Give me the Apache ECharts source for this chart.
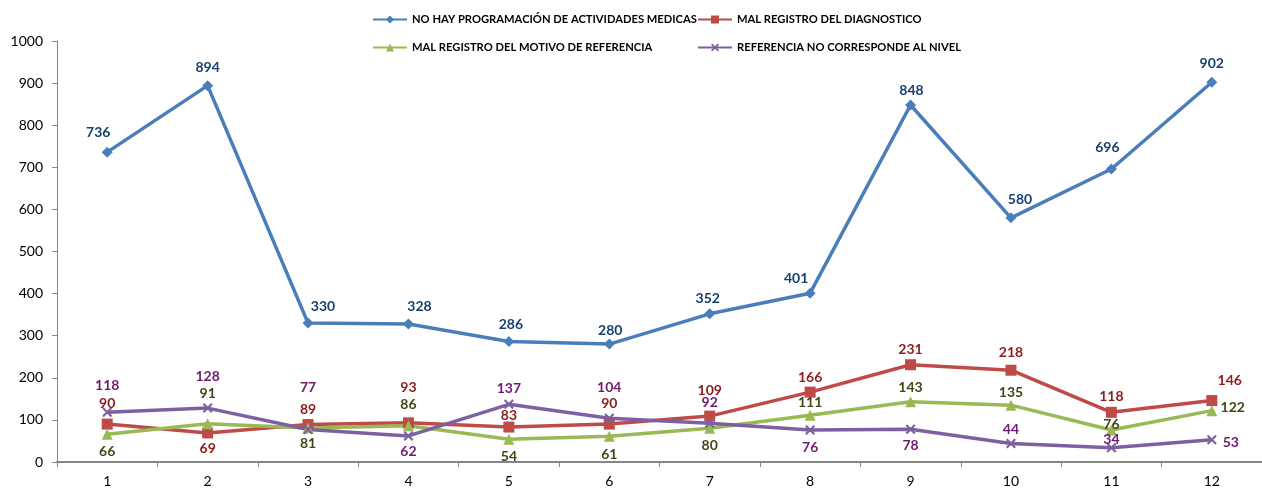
<!DOCTYPE html>
<html>
<head>
<meta charset="utf-8">
<script src="https://cdn.jsdelivr.net/npm/echarts@6/dist/echarts.min.js"></script>
<style>
html,body{margin:0;padding:0;background:#fff;}
#chart{width:1262px;height:493px;}
</style>
</head>
<body>
<div id="chart"></div>
<script>
const categories = ['1','2','3','4','5','6','7','8','9','10','11','12'];
const yTicks = [0,100,200,300,400,500,600,700,800,900,1000];

const seriesNames = [
  'NO HAY PROGRAMACIÓN DE ACTIVIDADES MEDICAS',
  'MAL REGISTRO DEL DIAGNOSTICO',
  'MAL REGISTRO DEL MOTIVO DE REFERENCIA',
  'REFERENCIA NO CORRESPONDE AL NIVEL'
];
const noHayProgramacion = [736, 894, 330, 328, 286, 280, 352, 401, 848, 580, 696, 902];
const malRegistroDiagnostico = [90, 69, 89, 93, 83, 90, 109, 166, 231, 218, 118, 146];
const malRegistroMotivo = [66, 91, 81, 86, 54, 61, 80, 111, 143, 135, 76, 122];
const referenciaNoCorresponde = [118, 128, 77, 62, 137, 104, 92, 76, 78, 44, 34, 53];

// label placement (pixel offsets of each value label from its point)
const offBlue = [[-9,-20],[0,-18],[15,-17],[11,-17],[2,-17],[1,-14],[-2,-15],[-14,-15],[1,-15],[9,-18],[-4,-21],[0,-19]];
const offRed = [[0,-21],[0,16],[0,-15],[0,-35],[0,-12],[0,-21],[0,-26],[0,-15],[0,-15],[0,-18],[0,-16],[18,-20]];
const offGreen = [[0,17],[0,-30],[0,16],[0,-21],[0,17],[0,18],[0,17],[0,-13],[0,-14],[0,-13],[0,-6],[21,-3]];
const offPurple = [[0,-27],[0,-32],[0,-42],[0,16],[0,-16],[0,-31],[0,-21],[0,17],[0,16],[0,-14],[0,-8],[19,3]];

const xSymbol = 'path://M0,1.5L1.5,0L5,3.5L8.5,0L10,1.5L6.5,5L10,8.5L8.5,10L5,6.5L1.5,10L0,8.5L3.5,5Z';

function mk(name, values, offs, color, labelColor, symbol, symbolSize) {
  return {
    name: name,
    type: 'line',
    data: values,
    symbol: symbol,
    symbolSize: symbolSize,
    lineStyle: { color: color, width: 3.5 },
    itemStyle: { color: color },
    label: {
      show: true,
      position: 'inside',
      color: labelColor,
      fontFamily: 'Lato',
      fontWeight: 'bold',
      fontSize: 14
    },
    labelLayout: function (params) {
      const o = offs[params.dataIndex];
      return { dx: o[0], dy: o[1], hideOverlap: false };
    },
    animation: false
  };
}

const legendFont = { fontFamily: 'Lato', fontWeight: 'bold', fontSize: 11.2, color: '#000' };
function lg(name, left, top) {
  return {
    data: [name], left: left, top: top, itemWidth: 34, itemHeight: 10, itemGap: 0,
    padding: 0, textStyle: legendFont, selectedMode: false
  };
}

const chart = echarts.init(document.getElementById('chart'), null, { renderer: 'canvas' });
chart.setOption({
  backgroundColor: '#fff',
  animation: false,
  legend: [
    lg(seriesNames[0], 372, 14),
    lg(seriesNames[1], 697, 14),
    lg(seriesNames[2], 372, 42),
    lg(seriesNames[3], 697, 42)
  ],
  grid: { left: 57, right: -2, top: 41, bottom: 31, containLabel: false },
  xAxis: {
    type: 'category',
    data: categories,
    boundaryGap: true,
    axisLine: { lineStyle: { color: '#868686', width: 2 } },
    axisTick: { show: true, length: 5, lineStyle: { color: '#868686' } },
    axisLabel: { color: '#000', fontFamily: 'Lato', fontSize: 14, margin: 12 },
    splitLine: { show: false }
  },
  yAxis: {
    type: 'value',
    min: yTicks[0], max: yTicks[yTicks.length - 1], interval: 100,
    axisLine: { show: true, lineStyle: { color: '#868686', width: 1 } },
    axisTick: { show: true, length: 5, lineStyle: { color: '#868686' } },
    axisLabel: { color: '#000', fontFamily: 'Lato', fontSize: 14, margin: 14, formatter: function (v) { return String(v); } },
    splitLine: { show: false }
  },
  series: [
    mk(seriesNames[0], noHayProgramacion, offBlue, '#4A7EBB', '#17406D', 'diamond', 11),
    mk(seriesNames[1], malRegistroDiagnostico, offRed, '#BE4B48', '#8E1B1B', 'rect', 11),
    mk(seriesNames[2], malRegistroMotivo, offGreen, '#98B954', '#45451A', 'triangle', 11),
    mk(seriesNames[3], referenciaNoCorresponde, offPurple, '#7D60A0', '#6F1A70', xSymbol, 10)
  ]
});
</script>
</body>
</html>
